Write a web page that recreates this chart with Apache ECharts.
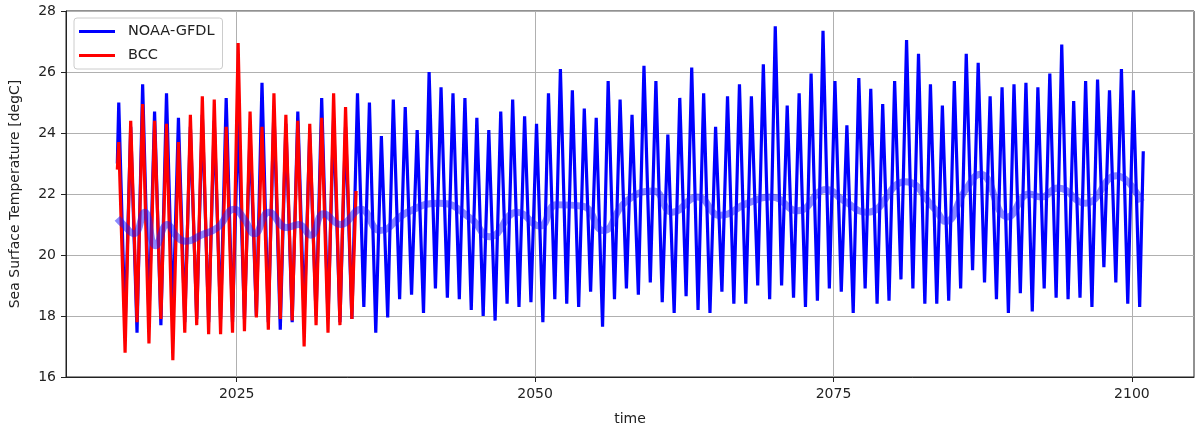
<!DOCTYPE html>
<html>
<head>
<meta charset="utf-8">
<script src="https://cdn.jsdelivr.net/npm/echarts@6/dist/echarts.min.js"></script>
<style>
html,body{margin:0;padding:0;background:#fff;}
#chart{width:1199px;height:431px;}
</style>
</head>
<body>
<div id="chart"></div>
<script>
// ---- data ----
const xTickLabels = [2025, 2050, 2075, 2100];
const yTickLabels = [16, 18, 20, 22, 24, 26, 28];

// NOAA-GFDL: first year 2015, one summer peak and one winter trough per year (2015..2100)
const gfdlFirstYear = 2015;
const gfdlStartValue = 23.0;
const gfdlEndYear = 2100.95;
const gfdlEndValue = 23.4;
const gfdlPeaks = [
  25.0, 24.2, 25.6, 24.7, 25.3, 24.5, 24.2, 24.6, 24.4, 25.15,
  24.5, 24.0, 25.65, 24.8, 24.3, 24.7, 24.0, 25.15, 24.5, 24.2,
  25.3, 25.0, 23.9, 25.1, 24.85, 24.1, 26.0, 25.5, 25.3, 25.15,
  24.5, 24.1, 24.7, 25.1, 24.55, 24.3, 25.3, 26.1, 25.4, 24.8,
  24.5, 25.7, 25.1, 24.6, 26.2, 25.7, 23.95, 25.15, 26.15, 25.3,
  24.2, 25.2, 25.6, 25.2, 26.25, 27.5, 24.9, 25.3, 25.95, 27.35,
  25.7, 24.25, 25.8, 25.45, 24.95, 25.7, 27.05, 26.6, 25.6, 24.9,
  25.7, 26.6, 26.3, 25.2, 25.5, 25.6, 25.65, 25.5, 25.95, 26.9,
  25.05, 25.7, 25.75, 25.4, 26.1, 25.4
];
const gfdlTroughs = [
  17.6, 17.45, 17.9, 17.7, 17.9, 17.8, 17.9, 17.8, 17.9, 17.8,
  17.9, 18.0, 17.8, 17.55, 17.8, 17.9, 18.0, 17.9, 17.8, 17.9,
  18.3, 17.45, 17.95, 18.55, 18.7, 18.1, 18.9, 18.6, 18.55, 18.2,
  18.0, 17.85, 18.4, 18.3, 18.45, 17.8, 18.55, 18.4, 18.3, 18.8,
  17.65, 18.55, 18.9, 18.7, 19.1, 18.45, 18.1, 18.65, 18.2, 18.1,
  18.8, 18.4, 18.4, 19.0, 18.55, 19.0, 18.6, 18.3, 18.5, 18.9,
  18.8, 18.1, 18.9, 18.4, 18.5, 19.2, 18.9, 18.4, 18.4, 18.5,
  18.9, 19.5, 19.1, 18.55, 18.1, 18.75, 18.15, 18.9, 18.6, 18.55,
  18.6, 18.3, 19.6, 19.1, 18.4, 18.3
];

// BCC: 2015..2034 peaks / troughs, ends at 2035.0
const bccFirstYear = 2015;
const bccStartValue = 22.8;
const bccEndYear = 2035.0;
const bccEndValue = 22.1;
const bccPeaks = [
  23.7, 24.4, 24.95, 24.4, 24.3, 23.7, 24.6, 25.2, 25.1, 24.2,
  26.95, 24.7, 24.2, 25.3, 24.6, 24.4, 24.3, 24.5, 25.3, 24.85
];
const bccTroughs = [
  16.8, 17.8, 17.1, 17.9, 16.55, 17.45, 17.7, 17.4, 17.4, 17.45,
  17.5, 17.95, 17.55, 17.9, 17.85, 17.0, 17.7, 17.45, 17.7, 17.9
];

// NOAA-GFDL slowly varying mean (thick translucent band)
const meanYears = [
  2015.0, 2015.5, 2016.4, 2017.3, 2018.2, 2019.2, 2020.0, 2020.75, 2022.0, 2023.4,
  2024.8, 2025.6, 2026.5, 2027.7, 2029.2, 2030.2, 2031.2, 2032.3, 2033.7, 2035.4,
  2037.0, 2039.3, 2042.0, 2044.6, 2046.2, 2048.5, 2050.4, 2051.8, 2054.0, 2055.7,
  2057.6, 2059.9, 2061.5, 2063.6, 2065.5, 2067.8, 2069.8, 2072.0, 2074.4, 2075.8,
  2077.8, 2081.0, 2083.5, 2084.4, 2086.0, 2087.3, 2089.6, 2091.4, 2092.4, 2093.8,
  2096.1, 2098.7, 2100.8
];
const meanValues = [
  21.2, 21.0, 20.7, 21.4, 20.3, 21.0, 20.6, 20.45, 20.65, 20.9,
  21.5, 21.2, 20.7, 21.4, 20.9, 21.0, 20.65, 21.35, 21.0, 21.5,
  20.8, 21.4, 21.7, 21.2, 20.6, 21.4, 20.95, 21.65, 21.6, 20.8,
  21.75, 22.1, 21.4, 21.9, 21.3, 21.7, 21.9, 21.45, 22.15, 21.8,
  21.4, 22.4, 21.5, 21.1, 22.1, 22.65, 21.25, 22.0, 21.9, 22.2,
  21.7, 22.6, 21.75
];

// seasonal phase of the extremes within each year
const PEAK_PHASE = 0.12;
const TROUGH_PHASE = 0.65;

function buildCycle(firstYear, startVal, peaks, troughs, endYear, endVal) {
  const d = [[firstYear, startVal]];
  for (let i = 0; i < peaks.length; i++) {
    d.push([firstYear + i + PEAK_PHASE, peaks[i]]);
    d.push([firstYear + i + TROUGH_PHASE, troughs[i]]);
  }
  d.push([endYear, endVal]);
  return d;
}

const gfdlData = buildCycle(gfdlFirstYear, gfdlStartValue, gfdlPeaks, gfdlTroughs, gfdlEndYear, gfdlEndValue);
const bccData = buildCycle(bccFirstYear, bccStartValue, bccPeaks, bccTroughs, bccEndYear, bccEndValue);
const meanData = meanYears.map((y, i) => [y, meanValues[i]]);

const FONT = 'DejaVu Sans';
const chart = echarts.init(document.getElementById('chart'), null, { renderer: 'canvas' });
chart.setOption({
  animation: false,
  backgroundColor: '#ffffff',
  grid: {
    left: 65, right: 5, top: 11, bottom: 54,
    show: true, borderColor: '#222', borderWidth: 1, backgroundColor: 'transparent'
  },
  legend: {
    data: ['NOAA-GFDL', 'BCC'],
    orient: 'vertical',
    left: 74, top: 18,
    padding: [6, 8, 6, 5],
    itemGap: 9,
    itemWidth: 36, itemHeight: 2.8,
    icon: 'rect',
    backgroundColor: 'rgba(255,255,255,0.8)',
    borderColor: '#cccccc', borderWidth: 1, borderRadius: 3,
    textStyle: { fontFamily: FONT, fontSize: 14.5, color: '#222', padding: [0, 0, 0, 8] }
  },
  xAxis: {
    type: 'value',
    min: 2010.7, max: 2105.2,
    name: 'time', nameLocation: 'middle', nameGap: 35,
    nameTextStyle: { fontFamily: FONT, fontSize: 14, color: '#222' },
    axisLine: { show: true, onZero: false, lineStyle: { color: '#222', width: 1 } },
    axisTick: { show: true, inside: false, length: 5, customValues: xTickLabels, lineStyle: { color: '#222' } },
    axisLabel: { customValues: xTickLabels, margin: 10, fontFamily: FONT, fontSize: 14, color: '#222',
                 formatter: v => String(Math.round(v)) },
    splitLine: { show: true, lineStyle: { color: '#b0b0b0', width: 1 } }
  },
  yAxis: {
    type: 'value',
    min: 16, max: 28, interval: 2,
    name: 'Sea Surface Temperature [degC]', nameLocation: 'middle', nameGap: 44,
    nameTextStyle: { fontFamily: FONT, fontSize: 14, color: '#222' },
    axisLine: { show: true, lineStyle: { color: '#222', width: 1 } },
    axisTick: { show: true, inside: false, length: 5, lineStyle: { color: '#222' } },
    axisLabel: { margin: 10, fontFamily: FONT, fontSize: 14, color: '#222',
                 formatter: v => yTickLabels.includes(v) ? String(v) : '' },
    splitLine: { show: true, lineStyle: { color: '#b0b0b0', width: 1 } }
  },
  series: [
    {
      name: 'NOAA-GFDL', type: 'line', data: gfdlData,
      showSymbol: false, symbol: 'none',
      lineStyle: { color: '#0000ff', width: 3.2 }, itemStyle: { color: '#0000ff' },
      z: 2
    },
    {
      name: 'BCC', type: 'line', data: bccData,
      showSymbol: false, symbol: 'none',
      lineStyle: { color: '#ff0000', width: 3.2 }, itemStyle: { color: '#ff0000' },
      z: 3
    },
    {
      name: 'NOAA-GFDL mean', type: 'line', data: meanData,
      showSymbol: false, symbol: 'none', smooth: 0.5,
      lineStyle: { color: 'rgba(20,20,255,0.5)', width: 7 },
      z: 4, silent: true
    }
  ]
});
</script>
</body>
</html>
